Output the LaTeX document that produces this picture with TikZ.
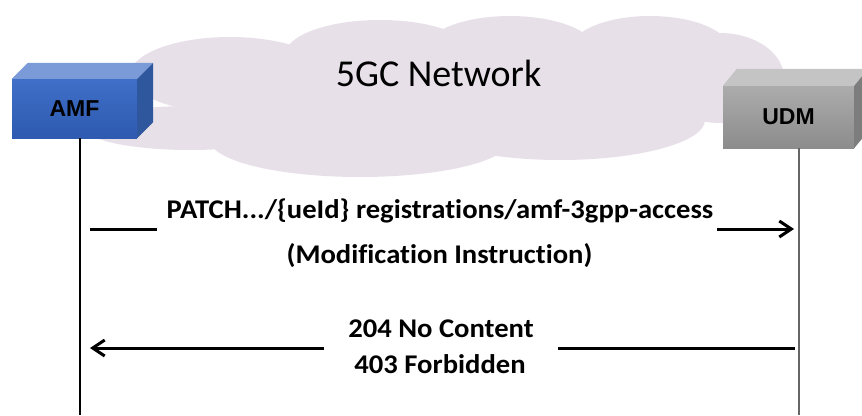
\documentclass[tikz,border=0pt]{standalone}
\usepackage{fontspec}
\setmainfont{Carlito}
\newfontfamily\boxfont{Liberation Sans}
\newfontfamily\msgfont[FakeStretch=1.06,Ligatures=NoCommon]{Carlito}
\usetikzlibrary{arrows.meta}
\definecolor{cloudc}{RGB}{232,224,233}
\definecolor{amffront}{RGB}{63,111,200}
\definecolor{amffrontb}{RGB}{46,90,176}
\definecolor{amftop}{RGB}{123,155,216}
\definecolor{amfside}{RGB}{47,87,158}
\definecolor{udmfront}{RGB}{172,172,172}
\definecolor{udmfrontb}{RGB}{140,140,140}
\definecolor{udmtop}{RGB}{196,196,196}
\definecolor{udmside}{RGB}{125,125,125}
\tikzset{
  cloudpart/.style={fill=cloudc, draw=none},
  nfbox/.style={inner sep=0pt, minimum width=#1,
    font=\boxfont\bfseries\fontsize{23}{26}\selectfont},
  msg/.style={font=\msgfont\bfseries\fontsize{27}{30}\selectfont, inner sep=0pt, anchor=base},
  msgline/.style={line width=3pt},
  msgarrow/.style={line width=3pt, -{Straight Barb[length=12pt,width=16pt,line width=3pt]}},
  lifeline/.style={line width=1.3pt}
}
\begin{document}
\begin{tikzpicture}[x=1pt,y=-1pt]
\useasboundingbox (0,0) rectangle (862,415);
% cloud
\fill[cloudpart] (230,75) ellipse [x radius=100, y radius=38];
\fill[cloudpart] (190,128) ellipse [x radius=105, y radius=22];
\fill[cloudpart] (360,140) ellipse [x radius=150, y radius=37];
\fill[cloudpart] (380,55) ellipse [x radius=95, y radius=35];
\fill[cloudpart] (510,50) ellipse [x radius=85, y radius=34];
\fill[cloudpart] (650,50) ellipse [x radius=80, y radius=34];
\fill[cloudpart] (720,78) ellipse [x radius=64, y radius=45];
\fill[cloudpart] (560,120) ellipse [x radius=145, y radius=40];
\fill[cloudpart] (450,95) ellipse [x radius=250, y radius=60];
\node[font=\fontsize{38}{42}\selectfont, inner sep=0pt, anchor=base] (net) at (438.5,86) {5GC Network};
% AMF box
\node[nfbox=125pt, minimum height=59pt, top color=amffront, bottom color=amffrontb] (amf) at (74.5,108.5) {AMF};
\fill[amftop] (amf.north west) -- ++(16,-16) -- ([xshift=16pt,yshift=16pt]amf.north east) -- (amf.north east) -- cycle;
\fill[amfside] (amf.north east) -- ++(16,-16) -- ([xshift=16pt,yshift=16pt]amf.south east) -- (amf.south east) -- cycle;
% UDM box
\node[nfbox=131pt, minimum height=62pt, top color=udmfront, bottom color=udmfrontb] (udm) at (788.5,117) {UDM};
\fill[udmtop] (udm.north west) -- ++(14,-17) -- ([xshift=14pt,yshift=17pt]udm.north east) -- (udm.north east) -- cycle;
\fill[udmside] (udm.north east) -- ++(14,-17) -- ([xshift=14pt,yshift=17pt]udm.south east) -- (udm.south east) -- cycle;
% lifelines
\coordinate (amfend) at (80,415);
\coordinate (udmend) at (799,415);
\draw[lifeline] (amf.south -| amfend) -- (amfend);
\draw[lifeline, draw=black!60] (udm.south -| udmend) -- (udmend);
% request
\coordinate (r1a) at (90,229);
\coordinate (r1b) at (157,229);
\coordinate (r1c) at (717,229);
\coordinate (r1d) at (794,229);
\draw[msgline] (r1a) -- (r1b);
\draw[msgarrow] (r1c) -- (r1d);
\node[msg] (req1) at (440,218) {PATCH.../\{ueId\} registrations/amf-3gpp-access};
\node[msg] (req2) at (439.5,263) {(Modification Instruction)};
% response
\coordinate (r2a) at (795,348);
\coordinate (r2b) at (558,348);
\coordinate (r2c) at (324,348);
\coordinate (r2d) at (90,348);
\draw[msgline] (r2a) -- (r2b);
\draw[msgarrow] (r2c) -- (r2d);
\node[msg] (resp1) at (441,337) {204 No Content};
\node[msg] (resp2) at (440,373) {403 Forbidden};
\end{tikzpicture}
\end{document}
